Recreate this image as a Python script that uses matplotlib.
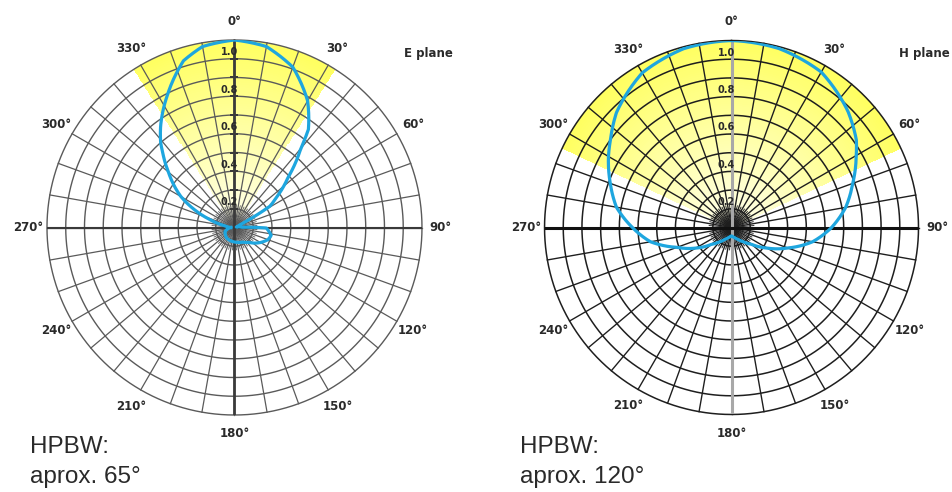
import numpy as np
import matplotlib
matplotlib.use('Agg')
import matplotlib.pyplot as plt
from matplotlib.colors import LinearSegmentedColormap

# E plane pattern (angle clockwise from 0 deg, relative level)
e_theta = [270, 280, 288, 295, 300, 310, 316, 319, 324, 333, 343, 350, 360,
           370, 380, 390, 397, 400, 407, 414, 419, 421, 423, 435, 448, 451,
           462, 470, 480, 496, 510, 530, 550, 576, 606, 630]
e_r = [0.02, 0.05, 0.14, 0.25, 0.33, 0.46, 0.55, 0.60, 0.67, 0.79, 0.93, 0.98,
       1.0, 0.98, 0.91, 0.78, 0.655, 0.55, 0.39, 0.28, 0.22, 0.12, 0.03, 0.01,
       0.04, 0.17, 0.20, 0.19, 0.16, 0.11, 0.09, 0.08, 0.075, 0.07, 0.055,
       0.02]

# H plane pattern
h_theta = [0, 15, 30, 45, 55, 60, 70, 80, 90, 100, 110, 120, 130, 140, 150,
           160, 170, 180, 190, 200, 210, 220, 230, 240, 250, 260, 270, 280,
           290, 300, 306, 315, 330, 345, 360]
h_r = [1.0, 0.99, 0.96, 0.88, 0.815, 0.77, 0.69, 0.62, 0.535, 0.44, 0.32,
       0.22, 0.14, 0.10, 0.075, 0.06, 0.05, 0.045, 0.05, 0.06, 0.075, 0.10,
       0.14, 0.22, 0.31, 0.44, 0.53, 0.625, 0.69, 0.76, 0.80, 0.87, 0.955,
       0.99, 1.0]

angle_labels = [0, 30, 60, 90, 120, 150, 180, 210, 240, 270, 300, 330]
ring_labels = [1.0, 0.8, 0.6, 0.4, 0.2]
rings = [0.1, 0.2, 0.3, 0.4, 0.5, 0.6, 0.7, 0.8, 0.9, 1.0]

e_hpbw = 65
h_hpbw = 130  # width of yellow band as drawn

BLUE = '#1ea6df'
TXT = '#2a2a2a'
NARROW = ['Liberation Sans Narrow', 'DejaVu Sans']
SANS = ['Liberation Sans', 'DejaVu Sans']

yellow = LinearSegmentedColormap.from_list('yel', ['#fffff0', '#ffff60'])


def setup_polar(ax):
    ax.set_theta_zero_location('N')
    ax.set_theta_direction(-1)
    ax.set_ylim(0, 1)
    ax.set_axis_off()


def draw_band(ax, width):
    th = np.radians(np.linspace(-width / 2, width / 2, 40))
    rr = np.linspace(0, 1, 81)
    C = (rr[:-1] + rr[1:])[None, :].repeat(len(th) - 1, axis=0).T / 2
    ax.pcolormesh(th, rr, C, cmap=yellow, vmin=0, vmax=1, shading='flat',
                  zorder=0)


def draw_grid(ax, color, lw):
    full = np.linspace(0, 2 * np.pi, 361)
    for r in rings:
        ax.plot(full, np.full_like(full, r), color=color, lw=lw, zorder=1,
                clip_on=False)
    for a in range(0, 360, 10):
        ax.plot([np.radians(a)] * 2, [0, 1], color=color, lw=lw * 0.9,
                zorder=1, clip_on=False)
    # denser spokes close to the centre
    for a in range(5, 360, 10):
        ax.plot([np.radians(a)] * 2, [0, 0.12], color=color, lw=lw * 0.6,
                zorder=1)


def draw_pattern(ax, theta, r):
    line, = ax.plot(np.radians(theta), r, color=BLUE, lw=2.3, zorder=3,
                    solid_joinstyle='round')
    # let the polar transform bend segments into arcs
    line.get_path()._interpolation_steps = 30


def draw_labels(ax, title):
    for a in angle_labels:
        ax.text(np.radians(a), 1.10, '%d°' % a, ha='center', va='center',
                fontsize=8.5, fontweight='bold', color=TXT, family=NARROW)
    for v in ring_labels:
        ax.annotate('%.1f' % v, xy=(0, v - 0.065), xytext=(2.5, 0),
                    textcoords='offset points', ha='right', va='center',
                    fontsize=7, fontweight='bold', color=TXT, family=NARROW,
                    zorder=4)
    ax.text(np.radians(48), 1.39, title, ha='center', va='center',
            fontsize=8.5, fontweight='bold', color=TXT, family=NARROW)


fig = plt.figure(figsize=(9.53, 4.92), dpi=100)

# left: E plane
ax1 = fig.add_axes([0.0493, 0.1565, 0.3935, 0.7622], projection='polar')
setup_polar(ax1)
draw_band(ax1, e_hpbw)
draw_grid(ax1, '#5a5a5a', 1.0)
ax1.plot([0, np.pi], [1, 1], color='#3a3a3a', lw=2.0, zorder=2)
ax1.plot([np.pi / 2, 3 * np.pi / 2], [1, 1], color='#3a3a3a', lw=1.5, zorder=2)
ax1.plot([0] * len(rings), rings, ls='none', marker='_', ms=6, mew=1.3,
         color='#3a3a3a', zorder=2)
draw_pattern(ax1, e_theta, e_r)
draw_labels(ax1, 'E plane')

# right: H plane
ax2 = fig.add_axes([0.5714, 0.1565, 0.3924, 0.7622], projection='polar')
setup_polar(ax2)
draw_band(ax2, h_hpbw)
draw_grid(ax2, '#1e1e1e', 1.1)
ax2.plot([0, np.pi], [1, 1], color='#a8a8a8', lw=2.2, zorder=2)
ax2.plot([np.pi / 2, 3 * np.pi / 2], [1, 1], color='#111111', lw=2.2, zorder=2)
draw_pattern(ax2, h_theta, h_r)
draw_labels(ax2, 'H plane')

# HPBW notes
fig.text(30 / 953, 1 - 447 / 492, 'HPBW:', fontsize=17.5, color=TXT,
         va='center', ha='left', family=SANS)
fig.text(30 / 953, 1 - 477 / 492, 'aprox. %d°' % e_hpbw, fontsize=17.5,
         color=TXT, va='center', ha='left', family=SANS)
fig.text(520 / 953, 1 - 447 / 492, 'HPBW:', fontsize=17.5, color=TXT,
         va='center', ha='left', family=SANS)
fig.text(520 / 953, 1 - 477 / 492, 'aprox. 120°', fontsize=17.5,
         color=TXT, va='center', ha='left', family=SANS)

fig.savefig('out.png', dpi=100)
